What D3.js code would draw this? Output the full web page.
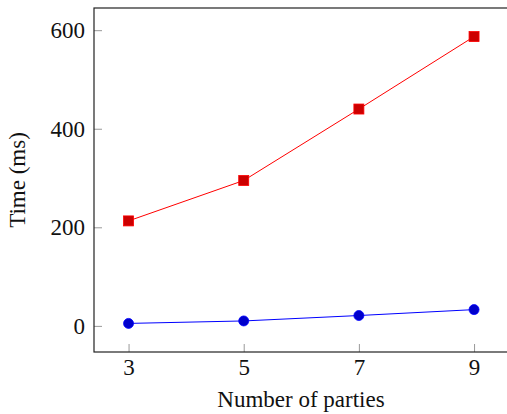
<!DOCTYPE html>
<html>
<head>
<meta charset="utf-8">
<script src="https://cdn.jsdelivr.net/npm/d3@7"></script>
<style>
  body { margin: 0; background: #fff; }
  svg text { font-family: "Liberation Serif", serif; fill: #111; }
</style>
</head>
<body>
<script>
// data
var parties = [3, 5, 7, 9];
var red_times = [213, 295, 440, 587];
var blue_times = [5, 10, 21, 33];
var x_ticks = [3, 5, 7, 9];
var y_ticks = [0, 200, 400, 600];

var size_graph = {x: 507, y: 414};
var plot = {left: 94, top: 8, right: 508.6, bottom: 352};

var x = d3.scaleLinear()
    .domain([2.4, 9.6])
    .range([plot.left, plot.right]);

var y = d3.scaleLinear()
    .domain([-53, 645])
    .range([plot.bottom, plot.top]);

var svg = d3.select("body").append("svg")
    .attr("width", size_graph.x)
    .attr("height", size_graph.y);

// inner ticks, gray, like pgfplots
var xAxis = d3.axisBottom(x).tickValues(x_ticks).tickSize(-8).tickPadding(7).tickFormat(d3.format("d"));
var yAxis = d3.axisLeft(y).tickValues(y_ticks).tickSize(-8).tickPadding(9).tickFormat(d3.format("d"));

var gx = svg.append("g")
    .attr("transform", `translate(0,${plot.bottom})`)
    .call(xAxis);
var gy = svg.append("g")
    .attr("transform", `translate(${plot.left},0)`)
    .call(yAxis);

[gx, gy].forEach(function(g) {
  g.attr("font-family", "Liberation Serif").attr("font-size", 23);
  g.select(".domain").remove();
  g.selectAll(".tick line").attr("stroke", "#999").attr("stroke-width", 1);
  g.selectAll(".tick text").attr("fill", "#111");
});

// frame
svg.append("rect")
    .attr("x", plot.left)
    .attr("y", plot.top)
    .attr("width", plot.right - plot.left)
    .attr("height", plot.bottom - plot.top)
    .attr("fill", "none")
    .attr("stroke", "#222")
    .attr("stroke-width", 1.2);

var line = d3.line()
    .x((d, i) => x(parties[i]))
    .y(d => y(d));

svg.append("path")
    .attr("d", line(red_times))
    .attr("fill", "none")
    .attr("stroke", "#ff0000")
    .attr("stroke-width", 1);

svg.append("path")
    .attr("d", line(blue_times))
    .attr("fill", "none")
    .attr("stroke", "#0000ff")
    .attr("stroke-width", 1);

svg.selectAll(".sq")
    .data(red_times)
    .enter().append("rect")
    .attr("x", (d, i) => x(parties[i]) - 5)
    .attr("y", d => y(d) - 5)
    .attr("width", 10)
    .attr("height", 10)
    .attr("fill", "#cc0000")
    .attr("stroke", "#ff0000")
    .attr("stroke-width", 0.8);

svg.selectAll(".dot")
    .data(blue_times)
    .enter().append("circle")
    .attr("cx", (d, i) => x(parties[i]))
    .attr("cy", d => y(d))
    .attr("r", 5)
    .attr("fill", "#0000cc")
    .attr("stroke", "#0000ff")
    .attr("stroke-width", 0.8);

svg.append("text")
    .attr("x", 301)
    .attr("y", 407)
    .attr("text-anchor", "middle")
    .attr("font-size", 23)
    .text("Number of parties");

svg.append("text")
    .attr("transform", `translate(25,${(plot.top + plot.bottom) / 2}) rotate(-90)`)
    .attr("text-anchor", "middle")
    .attr("font-size", 23)
    .text("Time (ms)");
</script>
</body>
</html>
